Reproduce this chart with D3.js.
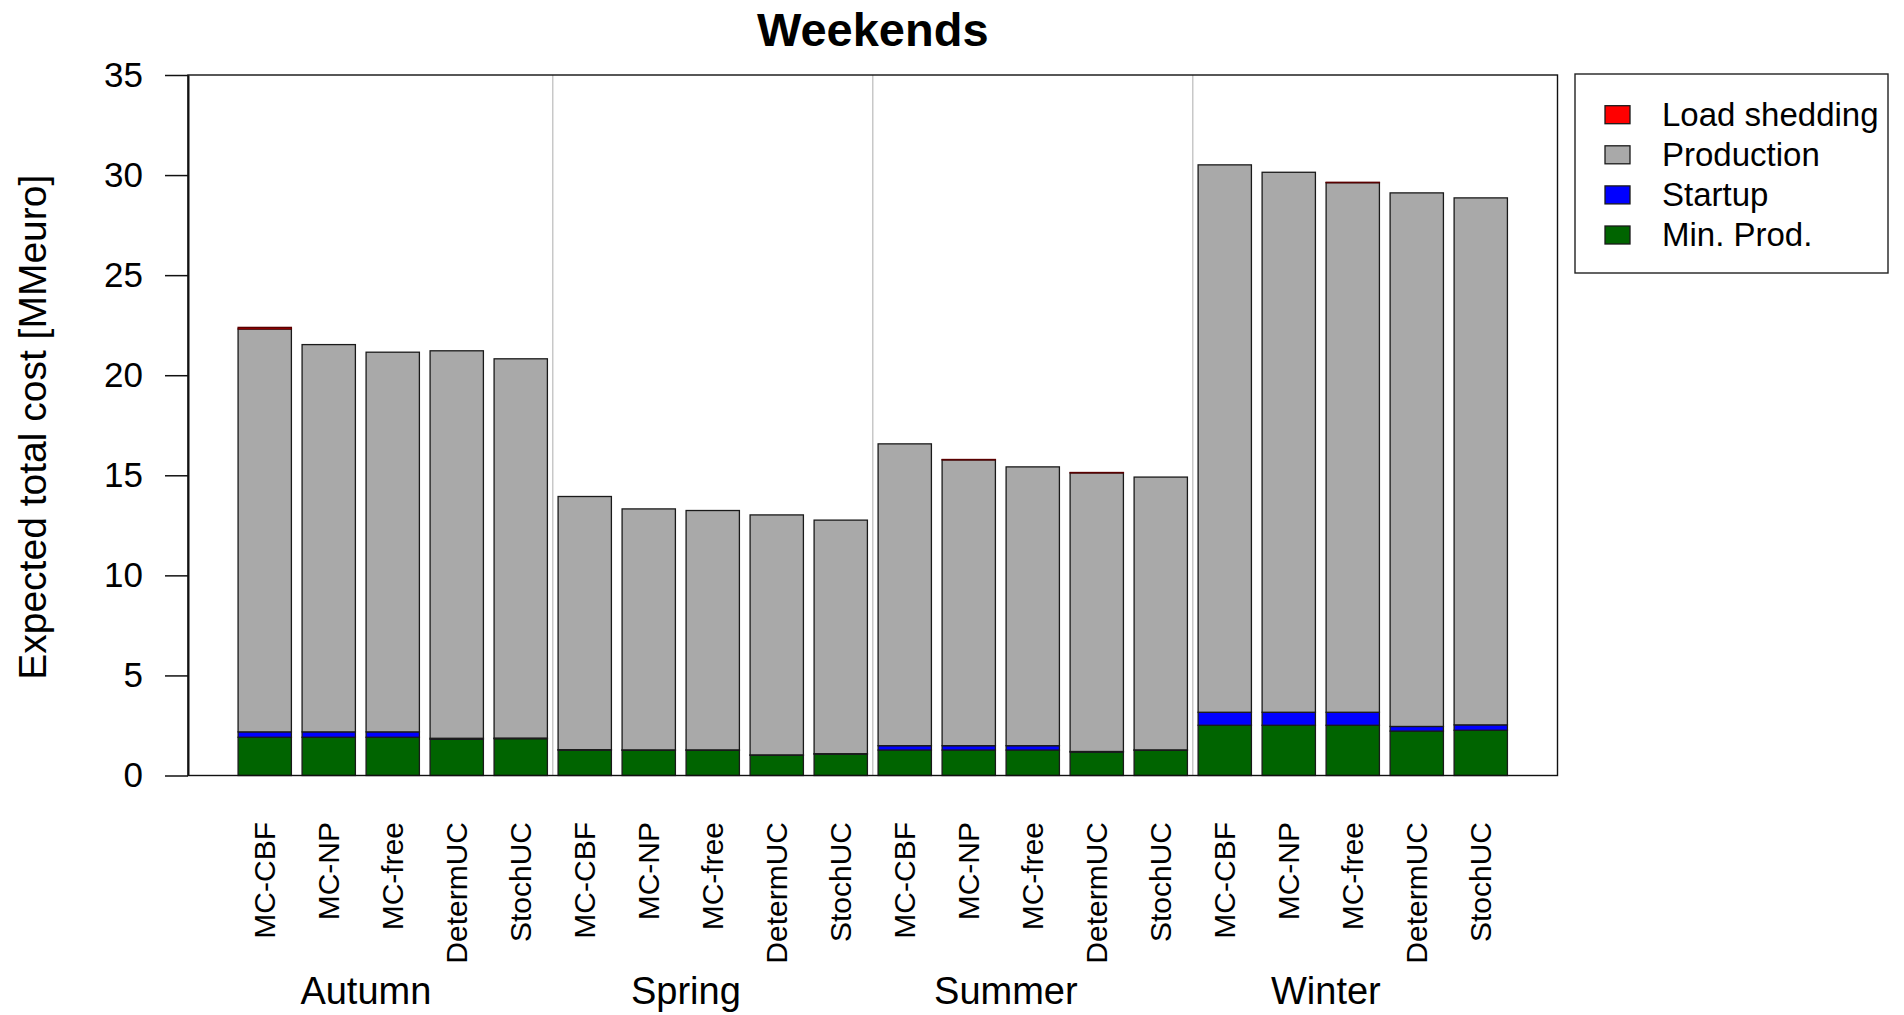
<!DOCTYPE html>
<html>
<head>
<meta charset="utf-8">
<script src="https://cdn.jsdelivr.net/npm/d3@7"></script>
<style>
  html, body { margin: 0; padding: 0; background: #fff; }
  svg { display: block; font-family: "Liberation Sans", Arial, sans-serif; }
</style>
</head>
<body>
<svg id="chart" width="1904" height="1015"></svg>
<script>
// Expected total cost per season and scheduling method, weekends [MMeuro]
const seasons = ["Autumn", "Spring", "Summer", "Winter"];
const methods = ["MC-CBF", "MC-NP", "MC-free", "DetermUC", "StochUC"];

const minProd    = [1.91, 1.91, 1.91, 1.81, 1.84,  1.27, 1.26, 1.26, 1.01, 1.07,  1.27, 1.27, 1.27, 1.17, 1.26,  2.51, 2.51, 2.51, 2.22, 2.26];
const startup    = [0.27, 0.27, 0.27, 0.05, 0.03,  0.02, 0.02, 0.02, 0.02, 0.02,  0.22, 0.22, 0.22, 0.03, 0.02,  0.65, 0.65, 0.65, 0.23, 0.27];
const production = [20.13, 19.35, 18.97, 19.36, 18.95,  12.65, 12.04, 11.96, 11.99, 11.67,  15.08, 14.28, 13.93, 13.92, 13.63,  27.35, 26.98, 26.46, 26.66, 26.33];
const loadShed   = [0.08, 0, 0, 0, 0,  0, 0, 0, 0, 0,  0, 0.02, 0, 0.02, 0,  0, 0, 0.02, 0, 0];

const yTicks = [0, 5, 10, 15, 20, 25, 30, 35];

const seriesKeys = ["minProd", "startup", "production", "loadShed"];
const seriesColor = { minProd: "#006400", startup: "#0000ff", production: "#a9a9a9", loadShed: "#ff0000" };
const legendItems = [
  { key: "loadShed", label: "Load shedding" },
  { key: "production", label: "Production" },
  { key: "startup", label: "Startup" },
  { key: "minProd", label: "Min. Prod." }
];

// one row per bar: season x method
const rows = [];
seasons.forEach((s, si) => methods.forEach((m, mi) => {
  const i = si * methods.length + mi;
  rows.push({ idx: i, season: s, method: m,
    minProd: minProd[i], startup: startup[i], production: production[i], loadShed: loadShed[i] });
}));

const svg = d3.select("#chart");
const plot = { left: 188, right: 1557.5, top: 75, bottom: 775.5 };

const x = d3.scaleBand()
  .domain(rows.map(d => d.idx))
  .range([plot.left, plot.right])
  .paddingInner(0.167)
  .paddingOuter(0.7825);

const y = d3.scaleLinear().domain([0, 35]).range([plot.bottom, plot.top]);

// group separators
for (let g = 1; g < seasons.length; g++) {
  const a = x(g * methods.length - 1) + x.bandwidth();
  const b = x(g * methods.length);
  const xm = (a + b) / 2;
  svg.append("line")
    .attr("x1", xm).attr("x2", xm)
    .attr("y1", plot.top).attr("y2", plot.bottom)
    .attr("stroke", "#c8c8c8").attr("stroke-width", 1.5);
}

// stacked bars
const stacked = d3.stack().keys(seriesKeys)(rows);
svg.append("g").selectAll("g")
  .data(stacked)
  .join("g")
  .attr("fill", s => seriesColor[s.key])
  .selectAll("rect")
  .data(s => s.filter(d => d[1] - d[0] > 0))
  .join("rect")
  .attr("x", d => x(d.data.idx))
  .attr("width", x.bandwidth())
  .attr("y", d => y(d[1]))
  .attr("height", d => y(d[0]) - y(d[1]))
  .attr("stroke", d => (d[1] - d[0]) < 0.1 && d[1] > 10 ? "#5a0000" : "#1a1a1a")
  .attr("stroke-width", 1.3);

// plot frame
svg.append("rect")
  .attr("x", plot.left).attr("y", plot.top)
  .attr("width", plot.right - plot.left).attr("height", plot.bottom - plot.top)
  .attr("fill", "none").attr("stroke", "#111").attr("stroke-width", 1.4);

// y axis
const yAxis = d3.axisLeft(y).tickValues(yTicks).tickSize(23).tickSizeOuter(0).tickPadding(22);
const ya = svg.append("g").attr("transform", `translate(${plot.left},0)`).call(yAxis);
ya.select(".domain").attr("stroke", "#111").attr("stroke-width", 2);
ya.selectAll(".tick line").attr("stroke", "#111").attr("stroke-width", 1.5);
ya.selectAll(".tick text")
  .attr("font-size", 35).attr("fill", "#000")
  .attr("font-family", "Liberation Sans, Arial, sans-serif");

// y label
svg.append("text")
  .attr("transform", `translate(46,${(plot.top + plot.bottom) / 2 + 2}) rotate(-90)`)
  .attr("text-anchor", "middle")
  .attr("font-size", 39)
  .text("Expected total cost [MMeuro]");

// method labels (vertical)
svg.append("g").selectAll("text")
  .data(rows)
  .join("text")
  .attr("transform", d => `translate(${x(d.idx) + x.bandwidth() / 2 + 10},822) rotate(-90)`)
  .attr("text-anchor", "end")
  .attr("font-size", 30)
  .text(d => d.method);

// season labels
svg.append("g").selectAll("text")
  .data(seasons)
  .join("text")
  .attr("x", (s, si) => {
    const first = x(si * methods.length);
    const last = x(si * methods.length + methods.length - 1) + x.bandwidth();
    return (first + last) / 2 - 0.42 * x.step();
  })
  .attr("y", 1004)
  .attr("text-anchor", "middle")
  .attr("font-size", 38)
  .text(s => s);

// title
svg.append("text")
  .attr("x", (plot.left + plot.right) / 2)
  .attr("y", 46)
  .attr("text-anchor", "middle")
  .attr("font-size", 47)
  .attr("font-weight", "bold")
  .text("Weekends");

// legend
const lg = svg.append("g");
lg.append("rect")
  .attr("x", 1575).attr("y", 74).attr("width", 313).attr("height", 199)
  .attr("fill", "#fff").attr("stroke", "#222").attr("stroke-width", 1.4);
const li = lg.selectAll("g.item")
  .data(legendItems)
  .join("g")
  .attr("class", "item")
  .attr("transform", (d, i) => `translate(1605,${114.7 + i * 40.1})`);
li.append("rect")
  .attr("x", 0).attr("y", -9).attr("width", 25).attr("height", 18)
  .attr("fill", d => seriesColor[d.key])
  .attr("stroke", "#1a1a1a").attr("stroke-width", 1.3);
li.append("text")
  .attr("x", 57).attr("y", 11)
  .attr("font-size", 33)
  .text(d => d.label);
</script>
</body>
</html>
